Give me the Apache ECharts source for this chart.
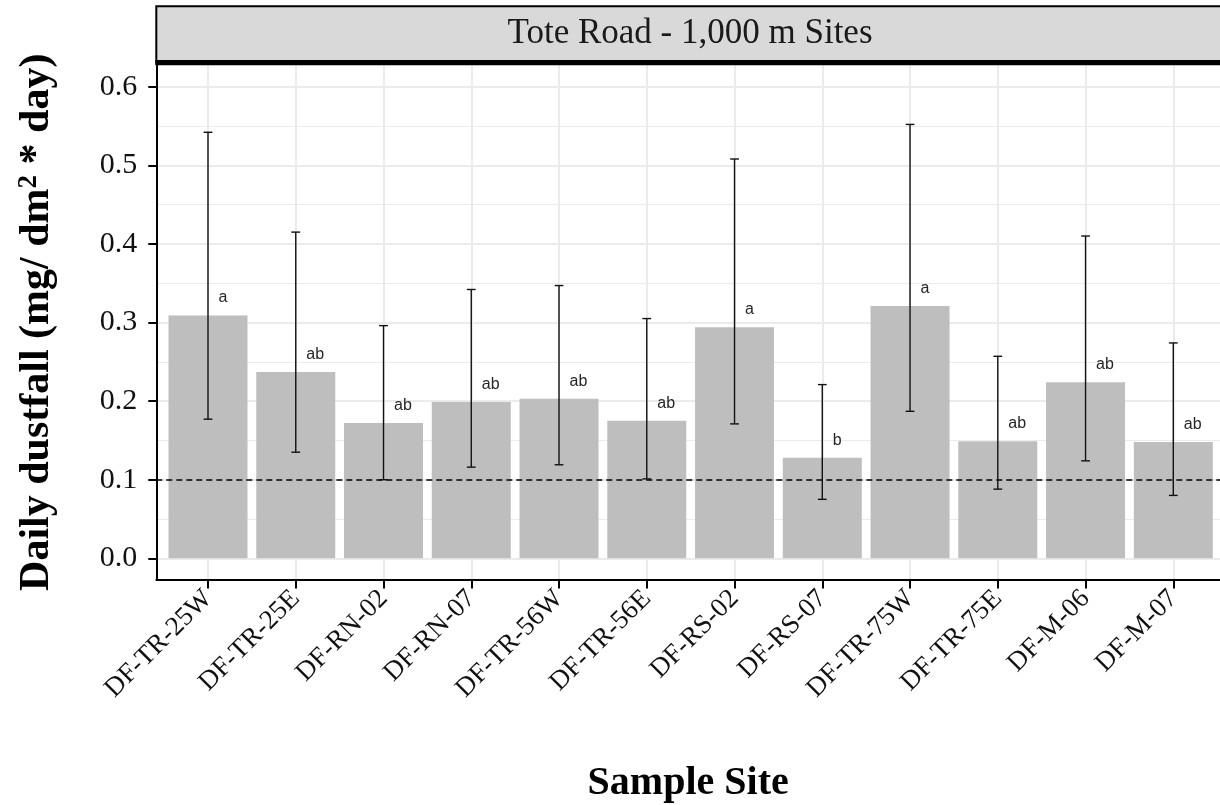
<!DOCTYPE html>
<html>
<head>
<meta charset="utf-8">
<script src="https://cdn.jsdelivr.net/npm/echarts@6/dist/echarts.min.js"></script>
<style>
  html, body { margin: 0; padding: 0; background: #ffffff; }
  #chart { width: 1220px; height: 805px; }
</style>
</head>
<body>
<div id="chart"></div>
<script>
// ---- data ----
const categories = ['DF-TR-25W', 'DF-TR-25E', 'DF-RN-02', 'DF-RN-07', 'DF-TR-56W', 'DF-TR-56E',
                    'DF-RS-02', 'DF-RS-07', 'DF-TR-75W', 'DF-TR-75E', 'DF-M-06', 'DF-M-07'];
const meanValues = [0.309, 0.237, 0.172, 0.199, 0.203, 0.175, 0.294, 0.128, 0.321, 0.149, 0.224, 0.148];
const upperValues = [0.542, 0.415, 0.296, 0.342, 0.347, 0.305, 0.508, 0.221, 0.552, 0.257, 0.410, 0.274];
const lowerValues = [0.177, 0.135, 0.100, 0.116, 0.119, 0.101, 0.171, 0.075, 0.187, 0.088, 0.124, 0.080];
const groupLetters = ['a', 'ab', 'ab', 'ab', 'ab', 'ab', 'a', 'b', 'a', 'ab', 'ab', 'ab'];
const thresholdValue = 0.1;
const yTicks = { min: 0, max: 0.6, interval: 0.1 };
const panelTitle = 'Tote Road - 1,000 m Sites';
const xTitle = 'Sample Site';

// ---- chart ----
const chart = echarts.init(document.getElementById('chart'), null, { renderer: 'canvas' });
const serif = '"Liberation Serif", "DejaVu Serif", serif';
const sans = '"Liberation Sans", Arial, sans-serif';
const gridColor = '#ebebeb';

const errData = categories.map((c, i) => [i, lowerValues[i], upperValues[i]]);
const labelData = categories.map((c, i) => [i, meanValues[i]]);

const option = {
  animation: false,
  backgroundColor: '#ffffff',
  grid: [
    // 0: horizontal gridlines + y tick labels
    { left: 156.3, right: 0, top: 86.7, bottom: 805 - 558.3, containLabel: false, outerBoundsMode: 'none' },
    // 1: category axis + bars
    { left: 208, right: 1220 - 1173.3, top: 65, bottom: 805 - 579.5, containLabel: false, outerBoundsMode: 'none' },
    // 2: frame lines + axis titles
    { left: 156.3, right: 0, top: 65, bottom: 805 - 579.5, containLabel: false, outerBoundsMode: 'none' }
  ],
  xAxis: [
    { gridIndex: 0, type: 'value', min: 0, max: 1, show: false },
    {
      gridIndex: 1, type: 'category', data: categories, boundaryGap: false,
      axisLine: { show: false, onZero: false },
      axisTick: { show: true, length: 9, lineStyle: { color: '#000', width: 2 } },
      axisLabel: { interval: 0, rotate: 45, fontFamily: serif, fontSize: 27, color: '#111', margin: 15,
                   align: 'right', verticalAlign: 'middle' },
      splitLine: { show: true, lineStyle: { color: gridColor, width: 2 } }
    },
    {
      gridIndex: 2, type: 'value', min: 0, max: 1,
      axisLine: { show: true, onZero: false, lineStyle: { color: '#000', width: 2 } },
      axisTick: { show: false }, axisLabel: { show: false }, splitLine: { show: false },
      name: xTitle, nameLocation: 'middle', nameGap: 184,
      nameTextStyle: { fontFamily: serif, fontSize: 40, fontWeight: 'bold', color: '#000' }
    }
  ],
  yAxis: [
    {
      gridIndex: 0, type: 'value', min: yTicks.min, max: yTicks.max, interval: yTicks.interval,
      axisLine: { show: false, onZero: false },
      axisTick: { show: true, length: 8, lineStyle: { color: '#000', width: 2 } },
      axisLabel: { fontFamily: serif, fontSize: 30, color: '#111', margin: 19,
                   formatter: v => v.toFixed(1) },
      splitLine: { show: true, lineStyle: { color: gridColor, width: 2 } },
      minorTick: { show: false, splitNumber: 2 },
      minorSplitLine: { show: true, lineStyle: { color: gridColor, width: 1.2 } }
    },
    { gridIndex: 1, type: 'value', min: -0.02697, max: 0.6276, show: false },
    {
      gridIndex: 2, type: 'value', min: 0, max: 1,
      axisLine: { show: true, onZero: false, lineStyle: { color: '#000', width: 2 } },
      axisTick: { show: false }, axisLabel: { show: false }, splitLine: { show: false },
      name: '{t|Daily dustfall (mg/ dm}{s|2}{t| * day)}', nameLocation: 'middle', nameGap: 98, nameRotate: 90,
      nameTextStyle: {
        rich: {
          t: { fontFamily: serif, fontSize: 42, fontWeight: 'bold', color: '#000' },
          s: { fontFamily: serif, fontSize: 27, fontWeight: 'bold', color: '#000', verticalAlign: 'top', padding: [0, 0, 16, 0] }
        }
      }
    }
  ],
  series: [
    {
      type: 'bar', xAxisIndex: 1, yAxisIndex: 1, data: meanValues,
      barCategoryGap: '10%', clip: false, z: 2,
      itemStyle: { color: '#bebebe' },
      emphasis: { disabled: true }
    },
    {
      type: 'line', xAxisIndex: 0, yAxisIndex: 0, data: [], z: 5, silent: true,
      markLine: {
        silent: true, symbol: ['none', 'none'], label: { show: false },
        lineStyle: { color: '#000', width: 1.6, type: [6, 4] },
        data: [{ yAxis: thresholdValue }]
      }
    },
    {
      type: 'custom', xAxisIndex: 1, yAxisIndex: 1, data: errData, z: 6, clip: false,
      encode: { x: 0, y: [1, 2] },
      renderItem: function (params, api) {
        const i = api.value(0);
        const lo = api.coord([i, api.value(1)]);
        const hi = api.coord([i, api.value(2)]);
        const hw = api.size([1, 0])[0] * 0.05;
        const st = { stroke: '#111', lineWidth: 1.4 };
        return {
          type: 'group',
          children: [
            { type: 'line', shape: { x1: lo[0], y1: lo[1], x2: hi[0], y2: hi[1] }, style: st },
            { type: 'line', shape: { x1: lo[0] - hw, y1: lo[1], x2: lo[0] + hw, y2: lo[1] }, style: st },
            { type: 'line', shape: { x1: hi[0] - hw, y1: hi[1], x2: hi[0] + hw, y2: hi[1] }, style: st }
          ]
        };
      }
    },
    {
      type: 'custom', xAxisIndex: 1, yAxisIndex: 1, data: labelData, z: 7, clip: false,
      encode: { x: 0, y: 1 },
      renderItem: function (params, api) {
        const p = api.coord([api.value(0), api.value(1)]);
        return {
          type: 'text',
          x: p[0] + 10.5, y: p[1] - 17.5,
          style: {
            text: groupLetters[params.dataIndex],
            font: '16px ' + sans, fill: '#262626',
            align: 'left', verticalAlign: 'middle'
          }
        };
      }
    }
  ],
  graphic: [
    {
      type: 'rect', z: 100,
      shape: { x: 156.3, y: 6.3, width: 1100, height: 56 },
      style: { fill: '#d9d9d9', stroke: '#000', lineWidth: 2 }
    },
    {
      type: 'rect', z: 101,
      shape: { x: 155.3, y: 60, width: 1100, height: 5.2 },
      style: { fill: '#000' }
    },
    {
      type: 'text', z: 102, x: 690, y: 34,
      style: { text: panelTitle, font: '35px ' + serif, fill: '#1a1a1a', align: 'center', verticalAlign: 'middle' }
    }
  ]
};
chart.setOption(option);
</script>
</body>
</html>
